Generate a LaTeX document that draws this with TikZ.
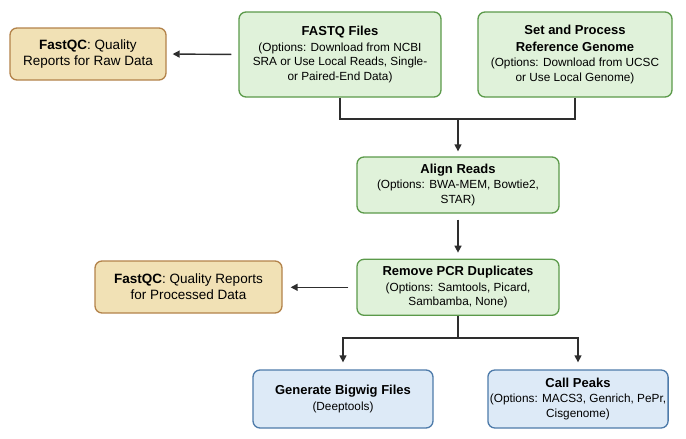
\documentclass[tikz,border=0pt]{standalone}
\usepackage{fontspec}
\setmainfont{Liberation Sans}
\usetikzlibrary{arrows.meta,
                positioning,
                shapes.geometric
            }

\definecolor{stepgreen}{HTML}{E0F2DA}
\definecolor{stepgreenline}{HTML}{5B9A4A}
\definecolor{qctan}{HTML}{F1E1B5}
\definecolor{qctanline}{HTML}{B3834A}
\definecolor{outblue}{HTML}{DDEAF7}
\definecolor{outblueline}{HTML}{4E7BAA}
\definecolor{linkgray}{HTML}{2E2E2E}

\newcommand{\titlefont}{\fontsize{13}{16}\selectfont\bfseries}

\tikzset{
    stepbox/.style={draw=stepgreenline, fill=stepgreen, line width=1.3pt, rounded corners=7pt,
                    align=center, inner sep=2pt, minimum width=202pt,
                    font=\fontsize{11.8}{14.5}\selectfont},
    qcbox/.style={draw=qctanline, fill=qctan, line width=1.3pt, rounded corners=7pt,
                  align=center, inner sep=2pt, minimum height=52pt,
                  font=\fontsize{13.5}{16}\selectfont},
    outbox/.style={draw=outblueline, fill=outblue, line width=1.3pt, rounded corners=7pt,
                   align=center, inner sep=2pt, minimum width=180pt, minimum height=58pt,
                   font=\fontsize{11.8}{14.5}\selectfont},
    link/.style={draw=linkgray, line width=1.4pt},
    arrowlink/.style={link, -{Triangle[length=7pt,width=7pt]}}
}

\begin{document}
\begin{tikzpicture}[x=1pt, y=-1pt]
                \useasboundingbox (0,0) rectangle (686,439);

                % Input steps
                \node (fastq) [stepbox, minimum height=85pt] at (340,54.5)
                    {{\titlefont FASTQ Files}\\[1pt]
                     (Options: Download from NCBI\\SRA or Use Local Reads, Single-\\or Paired-End Data)};
                \node (refgenome) [stepbox, minimum width=194pt, minimum height=85pt] at (575,54.5)
                    {{\titlefont Set and Process}\\[2pt]{\titlefont Reference Genome}\\[1pt]
                     (Options: Download from UCSC\\or Use Local Genome)};

                % Quality reports
                \node (qcraw) [qcbox, minimum width=156pt] at (88,54)
                    {\textbf{FastQC}: Quality\\Reports for Raw Data};

                % Processing steps
                \node (align) [stepbox, minimum height=56pt] at (458,185)
                    {{\titlefont Align Reads}\\[1pt](Options: BWA-MEM, Bowtie2,\\STAR)};
                \node (dedup) [stepbox, minimum height=56pt, below=45pt of align]
                    {{\titlefont Remove PCR Duplicates}\\[1pt](Options: Samtools, Picard,\\Sambamba, None)};
                \node (qcproc) [qcbox, minimum width=187pt] at (188.5,287)
                    {\textbf{FastQC}: Quality Reports\\for Processed Data};

                % Outputs
                \node (bigwig) [outbox] at (343,399)
                    {{\titlefont Generate Bigwig Files}\\[1pt](Deeptools)};
                \node (peaks) [outbox] at (578,399)
                    {{\titlefont Call Peaks}\\[1pt](Options: MACS3, Genrich, PePr,\\Cisgenome)};

                % Connectors
                \coordinate (merge) at (458,119);
                \coordinate (split) at (458,338);
                \draw [link] (fastq.south) |- (merge);
                \draw [link] (refgenome.south) |- (merge);
                \draw [arrowlink, shorten >=5pt] (merge) -- (align.north);
                \draw [arrowlink, shorten <=6pt, shorten >=6pt] (align) -- (dedup);
                \draw [arrowlink, shorten <=7pt, shorten >=6pt] (fastq.west) -- (qcraw.east);
                \draw [arrowlink, shorten <=8pt, shorten >=8pt] (dedup.west) -- (qcproc.east |- dedup.west);
                \draw [link] (dedup.south) -- (split);
                \draw [arrowlink, shorten >=7pt] (split) -| (bigwig.north);
                \draw [arrowlink, shorten >=7pt] (split) -| (peaks.north);
            \end{tikzpicture}
\end{document}
